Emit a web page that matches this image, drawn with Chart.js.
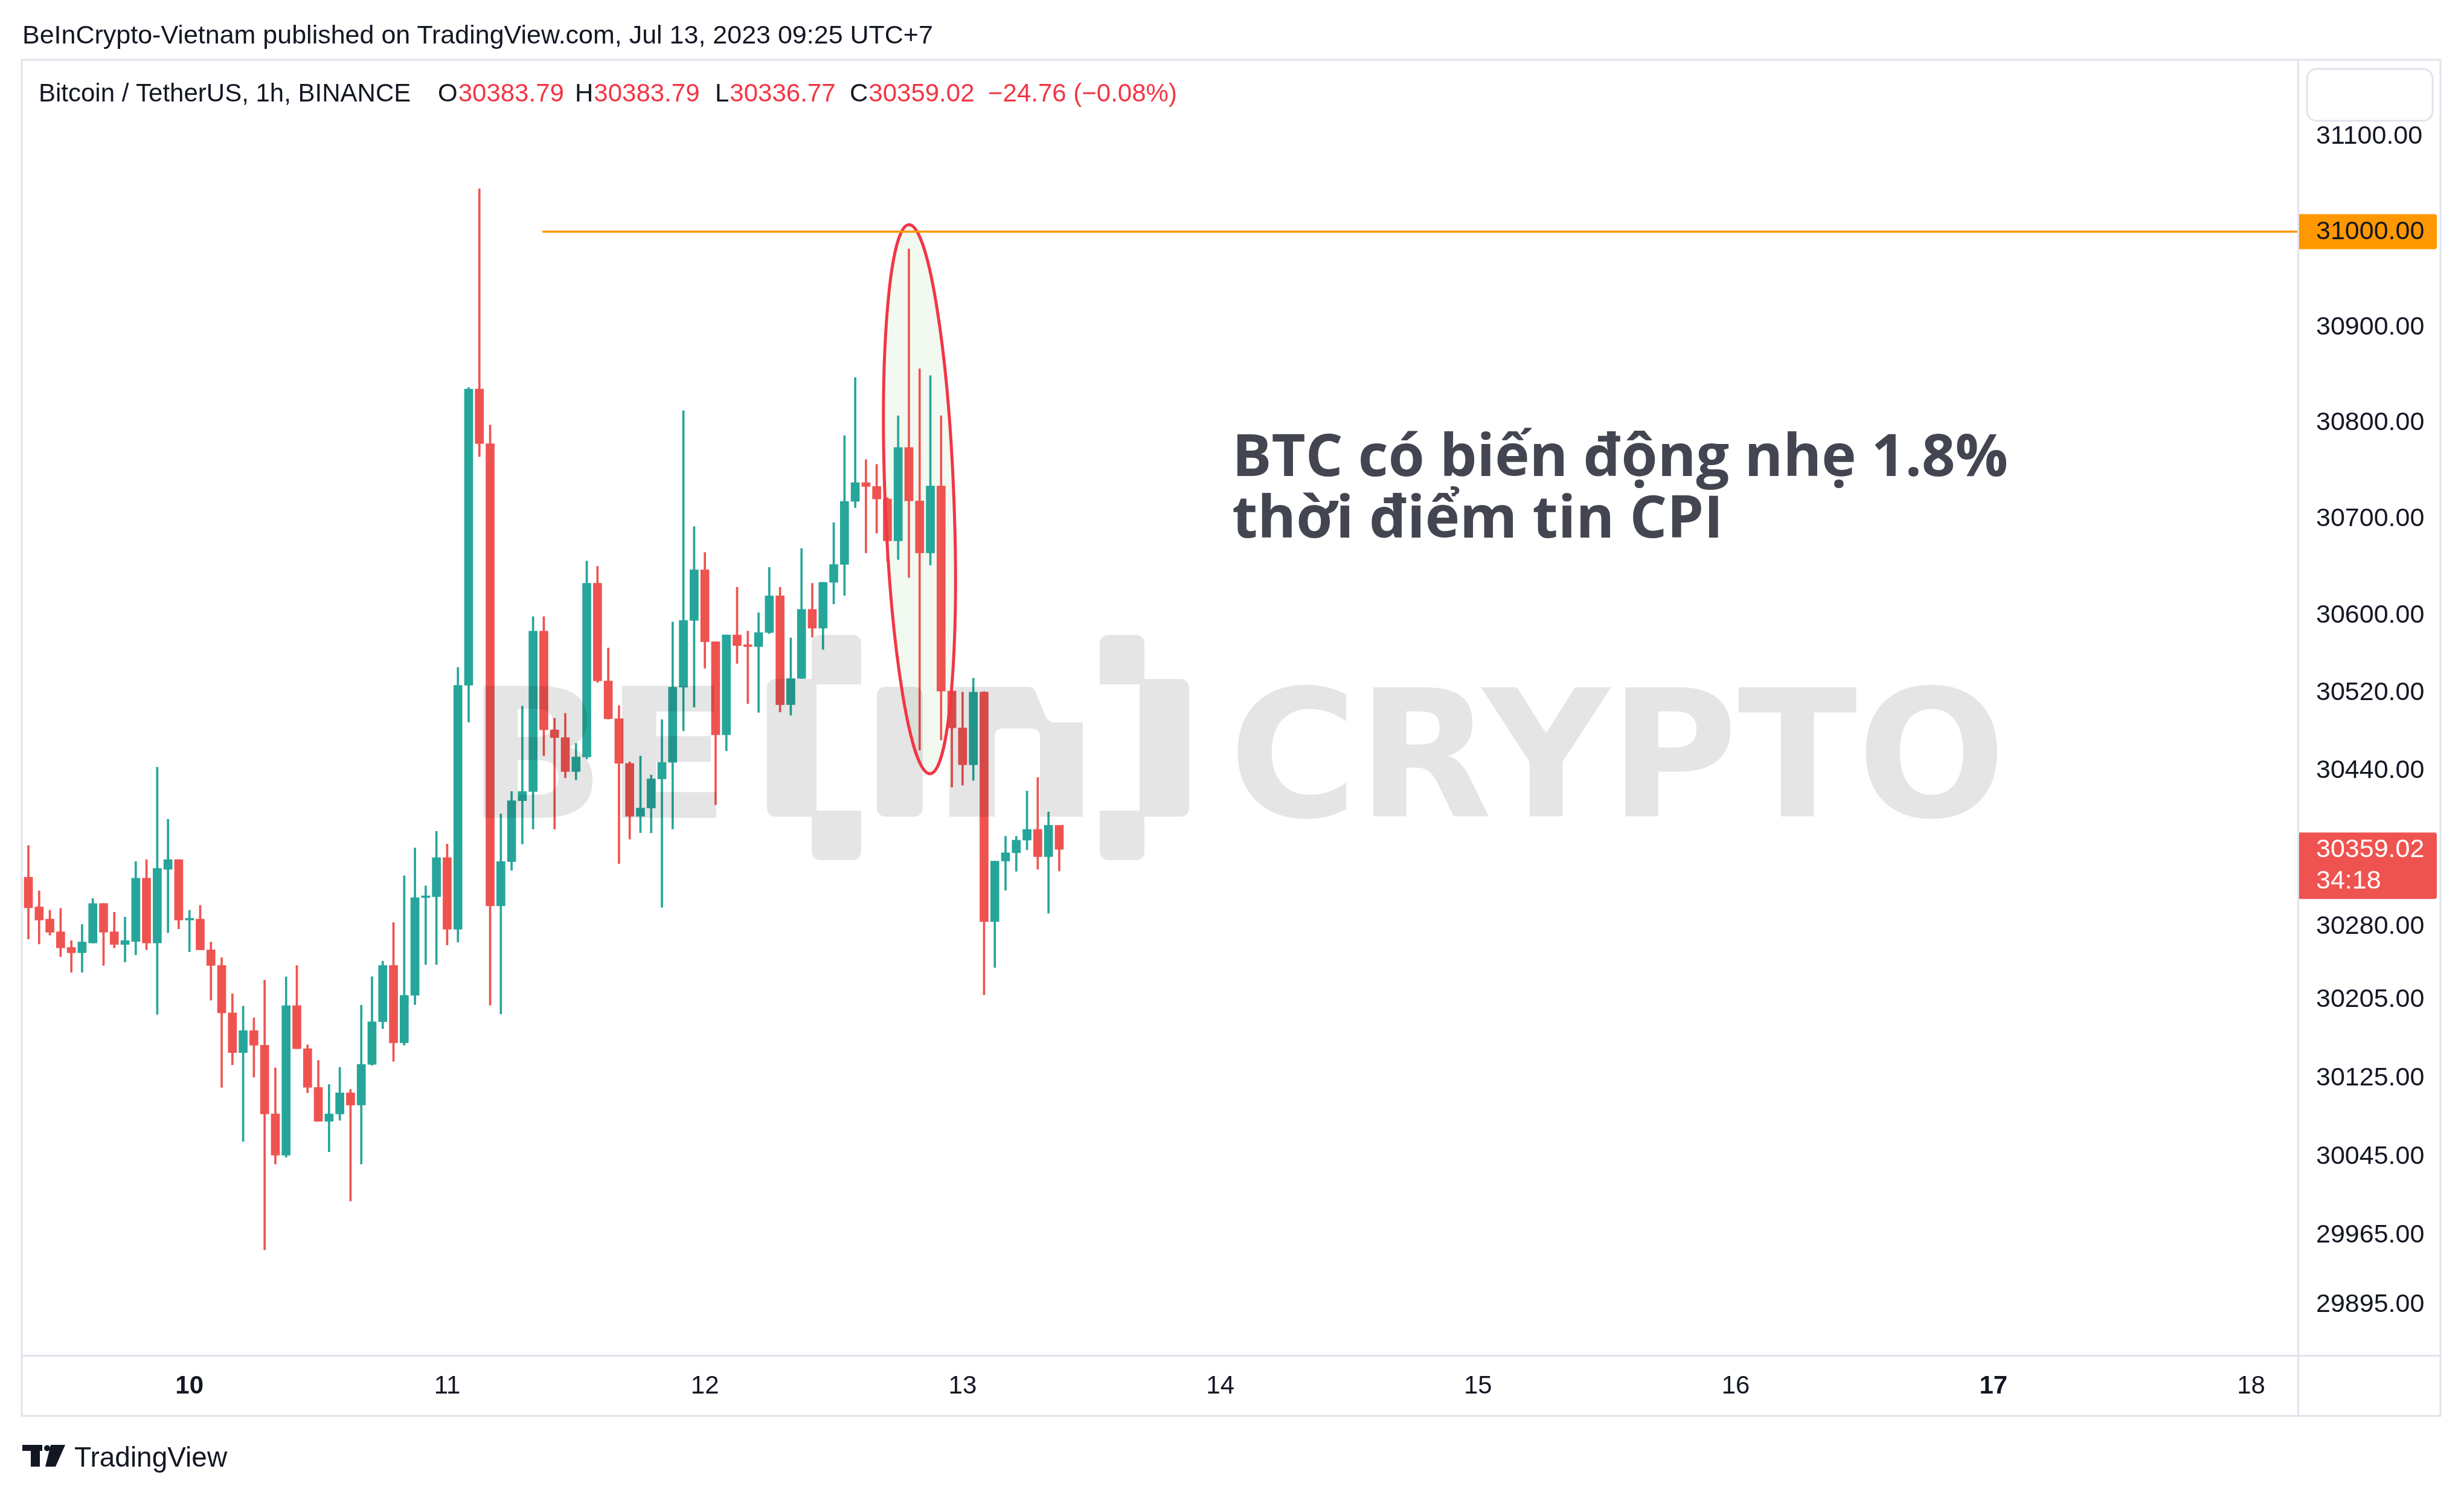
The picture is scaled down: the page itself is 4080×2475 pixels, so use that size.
<!DOCTYPE html>
<html>
<head>
<meta charset="utf-8">
<script src="https://cdn.jsdelivr.net/npm/chart.js@4.4.0/dist/chart.umd.min.js"></script>
<style>
html,body{margin:0;padding:0;background:#fff;}
#wrap{position:relative;width:4080px;height:2475px;overflow:hidden;background:#fff;}
#c{position:absolute;left:0;top:0;}
#hdr{position:absolute;left:37px;top:36px;font:43px/43px "Liberation Sans",Arial,sans-serif;color:#131722;white-space:nowrap;}
#tvtxt{position:absolute;left:123px;top:2389px;font:46px/46px "Liberation Sans",Arial,sans-serif;color:#131722;white-space:nowrap;}
#tvlogo{position:absolute;left:37px;top:2390px;}
</style>
</head>
<body>
<div id="wrap">
<canvas id="c" width="4080" height="2475"></canvas>
<div id="hdr">BeInCrypto-Vietnam published on TradingView.com, Jul 13, 2023 09:25 UTC+7</div>
<svg id="tvlogo" width="75" height="40" viewBox="0 0 75 40">
  <rect x="0" y="2" width="33" height="10" fill="#131722"/>
  <rect x="14" y="2" width="15" height="36" fill="#131722"/>
  <circle cx="41" cy="7.5" r="5" fill="#131722"/>
  <polygon points="47,2 71,2 55,38 38,38" fill="#131722"/>
</svg>
<div id="tvtxt">TradingView</div>
</div>
<script>
// ---- DATA (BTC/USDT 1h, Binance; first candle = Jul 9 09:00, UTC+7) ----
const firstCandleHour = 9; // hours after Jul 9 00:00
const opens = [30330.5,30300,30287.5,30274.5,30258.5,30253,30263,30303.5,30274.5,30261.5,
30264.5,30329.5,30263,30338.5,30348.5,30286.5,30287.5,30256,30240,30191.5,
30151,30173.5,30158.5,30088.5,30046.5,30199,30155,30115.5,30081,30088.5,
30110,30097.5,30139,30182.5,30240,30161,30209.5,30309.5,30310.5,30350.5,
30277,30528,30835.5,30778.5,30301,30346.5,30409,30418.5,30584,30482,
30474,30439,30454,30633.5,30532.5,30493.5,30447.5,30393,30401.5,30431.5,
30448.5,30526,30595,30647.5,30573,30477,30580,30569,30568,30582.5,
30620.5,30508,30535,30606.5,30587,30634.5,30653,30718.5,30738,30734,
30721,30677.5,30774.5,30719,30665,30734.5,30522,30484,30446,30521,
30285,30347,30355.5,30368.5,30379.5,30351.5,30383.79];
const highs = [30363,30316.5,30296.5,30298.5,30265.5,30282,30308.5,30303.5,30294.5,30289.5,
30346.5,30348.5,30443.5,30390,30348.5,30296.5,30301.5,30264,30248,30211,
30198.5,30186.5,30225,30135.5,30228.5,30240,30159,30143,30118.5,30136,
30113.5,30199.5,30228.5,30244.5,30284,30332,30360.5,30321.5,30377.5,30364.5,
30546.5,30837,31045,30798,30395.5,30418.5,30506.5,30599,30599,30494,
30499,30468,30656.5,30651,30566.5,30507,30449,30455,30435.5,30492.5,
30593.5,30813,30692.5,30665.5,30573,30580,30629.5,30584,30603,30650,
30629.5,30577,30669.5,30633.5,30634.5,30696.5,30787,30847.5,30762,30757,
30722.5,30807.5,30982,30856.5,30849.5,30807.5,30523,30521,30535.5,30521.5,
30347,30372.5,30372.5,30419,30433,30397.5,30383.79];
const lows = [30267,30262,30271,30249,30233,30233,30263,30240,30258,30243.5,
30251,30256,30190,30273.5,30277.5,30254,30256,30204.5,30115.5,30138.5,
30060.5,30126,29950.5,30037.5,30044.5,30155,30110,30081,30050,30082,
30000,30037.5,30138,30175.5,30142,30158.5,30200,30241,30241,30261,
30264,30490,30765,30199.5,30190.5,30337.5,30364.5,30380,30455.5,30380,
30432.5,30430.5,30452,30531,30493,30344.5,30369.5,30376,30376,30299.5,
30380,30481,30505.5,30545.5,30405,30460.5,30550.5,30509,30500,30581.5,
30500.5,30497,30535,30577.5,30565,30612,30621,30712,30665,30685.5,
30656,30658,30639.5,30461,30652.5,30471.5,30423,30425,30430,30210,
30238,30317,30336.5,30358.5,30338.5,30293.5,30336.77];
const closes = [30299,30286.5,30274,30258,30253,30264,30303.5,30274,30261.5,30265.5,
30329.5,30263,30339.5,30348.5,30286.5,30287.5,30256,30240,30191.5,30151,
30173.5,30158.5,30088.5,30046.5,30199,30155,30115.5,30081,30088.5,30110,
30097.5,30139,30182.5,30240,30161,30209.5,30309.5,30310.5,30350.5,30277,
30528,30835.5,30778.5,30301,30346.5,30409,30418.5,30584,30482,30474,
30439,30454,30633.5,30532.5,30493.5,30447.5,30393,30401.5,30431.5,30448.5,
30526,30595,30647.5,30573,30477,30580,30569,30568,30582.5,30620.5,
30508,30535,30606.5,30587,30634.5,30653,30718.5,30738,30734,30721,
30677.5,30774.5,30719,30665,30734.5,30522,30484,30446,30521,30285,
30347,30355.5,30368.5,30379.5,30351.5,30383.78,30359.02];

// x-axis: day ticks (hours after Jul 9 00:00) and their labels
const dayTickHours = [24,48,72,96,120,144,168,192,216];
const dayTickLabels = ['10','11','12','13','14','15','16','17','18'];
const boldDayLabels = ['10','17']; // Mondays
// y-axis tick labels
const priceTicks = [31100,30900,30800,30700,30600,30520,30440,30280,30205,30125,30045,29965,29895];
// horizontal level & annotation
const levelPrice = 31000;
const levelStartHour = 56.86;
const ellipseTop = {hour: 91.0, price: 31007.4};
const ellipseBottom = {hour: 92.97, price: 30436.8};
const noteLines = ['BTC có biến động nhẹ 1.8%', 'thời điểm tin CPI'];
const noteAnchor = {hour: 121.1, price: 30745};
const symbolText = 'Bitcoin / TetherUS, 1h, BINANCE';
const countdownText = '34:18';

// ---- build datasets ----
const UP = '#26a69a', DOWN = '#ef5350';
const xs = opens.map((_, i) => firstCandleHour + i);
const candleColors = opens.map((o, i) => closes[i] >= o ? UP : DOWN);
const bodyData = opens.map((o, i) => ({x: xs[i], y: [o, closes[i]]}));
const wickData = opens.map((o, i) => ({x: xs[i], y: [lows[i], highs[i]]}));

const FONT = '"Liberation Sans", Arial, sans-serif';
const TXT = '#131722';
const BORDER = '#e0e3eb';

function rr(ctx, x, y, w, h, r) { ctx.roundRect(x, y, w, h, r); }

const overlay = {
  id: 'overlay',
  ellipse(chart) {
    const X = chart.scales.x, Y = chart.scales.y;
    const x1 = X.getPixelForValue(ellipseTop.hour), y1 = Y.getPixelForValue(ellipseTop.price);
    const x2 = X.getPixelForValue(ellipseBottom.hour), y2 = Y.getPixelForValue(ellipseBottom.price);
    const L = Math.hypot(x2 - x1, y2 - y1);
    return {cx: (x1 + x2) / 2, cy: (y1 + y2) / 2, ry: L / 2, rx: 57, rot: Math.atan2(y2 - y1, x2 - x1) - Math.PI / 2};
  },
  beforeDatasetsDraw(chart) {
    const ctx = chart.ctx, e = this.ellipse(chart);
    ctx.save();
    ctx.beginPath();
    ctx.ellipse(e.cx, e.cy, e.rx, e.ry, e.rot, 0, Math.PI * 2);
    ctx.fillStyle = 'rgba(76,175,80,0.08)';
    ctx.fill();
    ctx.restore();
  },
  afterDatasetsDraw(chart) {
    const ctx = chart.ctx, X = chart.scales.x, Y = chart.scales.y, a = chart.chartArea;
    // watermark
    ctx.save();
    ctx.fillStyle = 'rgba(0,0,0,0.1)';
    const fitText = (text, left, top, right, bottom) => {
      ctx.font = 'bold 200px "DejaVu Sans", sans-serif';
      ctx.textAlign = 'left'; ctx.textBaseline = 'alphabetic';
      const m = ctx.measureText(text);
      const w = m.actualBoundingBoxLeft + m.actualBoundingBoxRight;
      const h = m.actualBoundingBoxAscent + m.actualBoundingBoxDescent;
      const sx = (right - left) / w, sy = (bottom - top) / h;
      ctx.save();
      ctx.translate(left + m.actualBoundingBoxLeft * sx, top + m.actualBoundingBoxAscent * sy);
      ctx.scale(sx, sy);
      ctx.fillText(text, 0, 0);
      ctx.restore();
    };
    fitText('BE', 800, 1135, 1186, 1354);
    fitText('CRYPTO', 2048, 1133, 3307, 1356);
    ctx.beginPath();
    rr(ctx, 1344, 1051, 82, 82, [14, 14, 0, 0]);
    rr(ctx, 1270, 1124, 82, 228, [14, 0, 0, 14]);
    rr(ctx, 1344, 1342, 82, 82, [0, 0, 14, 14]);
    rr(ctx, 1821, 1051, 74, 82, [14, 14, 0, 0]);
    rr(ctx, 1887, 1124, 82, 228, [0, 14, 14, 0]);
    rr(ctx, 1821, 1342, 74, 82, [0, 0, 14, 14]);
    rr(ctx, 1452, 1137, 76, 215, 14);
    ctx.fill();
    ctx.beginPath();
    ctx.moveTo(1572, 1352);
    ctx.lineTo(1572, 1151);
    ctx.quadraticCurveTo(1572, 1137, 1586, 1137);
    ctx.lineTo(1703, 1137);
    ctx.quadraticCurveTo(1711, 1137, 1714, 1144);
    ctx.lineTo(1733, 1189);
    ctx.quadraticCurveTo(1737, 1196, 1746, 1196);
    ctx.lineTo(1793, 1196);
    ctx.lineTo(1793, 1352);
    ctx.lineTo(1722, 1352);
    ctx.lineTo(1722, 1220);
    ctx.quadraticCurveTo(1722, 1206, 1708, 1206);
    ctx.lineTo(1661, 1206);
    ctx.quadraticCurveTo(1647, 1206, 1647, 1220);
    ctx.lineTo(1647, 1352);
    ctx.closePath();
    ctx.fill();
    ctx.restore();

    // ellipse stroke
    const e = this.ellipse(chart);
    ctx.save();
    ctx.beginPath();
    ctx.ellipse(e.cx, e.cy, e.rx, e.ry, e.rot, 0, Math.PI * 2);
    ctx.strokeStyle = '#f23645';
    ctx.lineWidth = 5;
    ctx.stroke();
    ctx.restore();

    // horizontal level
    const ly = Y.getPixelForValue(levelPrice);
    ctx.save();
    ctx.strokeStyle = '#ff9800';
    ctx.lineWidth = 3.5;
    ctx.beginPath();
    ctx.moveTo(X.getPixelForValue(levelStartHour), ly);
    ctx.lineTo(a.right, ly);
    ctx.stroke();
    ctx.restore();

    // annotation text
    ctx.save();
    ctx.fillStyle = '#434651';
    ctx.textAlign = 'left'; ctx.textBaseline = 'alphabetic';
    ctx.font = 'bold 100px "Open Sans", "Noto Sans", sans-serif';
    const w0 = ctx.measureText(noteLines[0]).width;
    const fs = 100 * 1285 / w0;
    ctx.font = `bold ${fs}px "Open Sans", "Noto Sans", sans-serif`;
    const tx = X.getPixelForValue(noteAnchor.hour), ty = Y.getPixelForValue(noteAnchor.price);
    noteLines.forEach((t, i) => ctx.fillText(t, tx, ty + i * 102));
    ctx.restore();
  },
  afterDraw(chart) {
    const ctx = chart.ctx, Y = chart.scales.y, a = chart.chartArea;
    const last = closes.length - 1;
    ctx.save();
    // legend line
    ctx.font = `42px ${FONT}`;
    ctx.textBaseline = 'alphabetic'; ctx.textAlign = 'left';
    const red = '#f23645';
    const chg = closes[last] - closes[last - 1];
    const pct = chg / closes[last - 1] * 100;
    const fmt = v => (v < 0 ? '\u2212' : '') + Math.abs(v).toFixed(2);
    ctx.fillStyle = TXT;
    ctx.fillText(symbolText, 64, 168);
    const groups = [
      ['O', opens[last].toFixed(2), 725],
      ['H', highs[last].toFixed(2), 952],
      ['L', lows[last].toFixed(2), 1184],
      ['C', closes[last].toFixed(2), 1407]
    ];
    groups.forEach(([k, v, x]) => {
      ctx.fillStyle = TXT;
      ctx.fillText(k, x, 168);
      ctx.fillStyle = red;
      ctx.fillText(v, x + ctx.measureText(k).width + 1, 168);
    });
    ctx.fillStyle = red;
    ctx.fillText(fmt(chg) + ' (' + fmt(pct) + '%)', 1636, 168);

    // frame
    ctx.strokeStyle = BORDER;
    ctx.lineWidth = 3;
    ctx.strokeRect(36, 99, 4041 - 36, 2344 - 99);
    ctx.beginPath();
    ctx.moveTo(a.right + 1.5, 99); ctx.lineTo(a.right + 1.5, 2344);
    ctx.moveTo(36, a.bottom + 1.5); ctx.lineTo(4041, a.bottom + 1.5);
    ctx.stroke();

    // top-right box
    ctx.beginPath();
    rr(ctx, 3820, 114, 208, 86, 16);
    ctx.fillStyle = '#fff';
    ctx.fill();
    ctx.strokeStyle = BORDER;
    ctx.lineWidth = 3;
    ctx.stroke();

    // level price label
    const ly = Y.getPixelForValue(levelPrice);
    ctx.fillStyle = '#ff9800';
    ctx.beginPath();
    rr(ctx, a.right + 3, ly - 29, 4035 - a.right - 3, 58, [0, 4, 4, 0]);
    ctx.fill();
    ctx.fillStyle = TXT;
    ctx.font = `43px ${FONT}`;
    ctx.textBaseline = 'middle';
    ctx.fillText(levelPrice.toFixed(2), 3835, ly + 1);

    // last price label
    const py = Y.getPixelForValue(closes[last]);
    ctx.fillStyle = '#ef5350';
    ctx.beginPath();
    rr(ctx, a.right + 3, py - 28, 4035 - a.right - 3, 110, [0, 4, 4, 0]);
    ctx.fill();
    ctx.fillStyle = '#fff';
    ctx.fillText(closes[last].toFixed(2), 3835, py + 1);
    ctx.fillText(countdownText, 3835, py + 53);
    ctx.restore();
  }
};

new Chart(document.getElementById('c'), {
  type: 'bar',
  data: {
    datasets: [
      {label: 'wick', data: wickData, backgroundColor: candleColors, barThickness: 3, grouped: false, order: 2, borderWidth: 0},
      {label: 'body', data: bodyData, backgroundColor: candleColors, barThickness: 14, grouped: false, order: 1, borderWidth: 0, minBarLength: 3}
    ]
  },
  options: {
    responsive: false,
    animation: false,
    devicePixelRatio: 1,
    events: [],
    layout: {padding: {left: 36, top: 99, right: 39, bottom: 131}},
    plugins: {legend: {display: false}, tooltip: {enabled: false}},
    scales: {
      x: {
        type: 'linear', min: 8.381, max: 220.3, offset: false,
        grid: {display: false, drawTicks: false}, border: {display: false},
        afterBuildTicks: s => { s.ticks = dayTickHours.map(v => ({value: v})); },
        afterFit: s => { s.height = 101; },
        ticks: {
          autoSkip: false, maxRotation: 0, padding: 27, color: TXT,
          callback: v => dayTickLabels[dayTickHours.indexOf(v)],
          font: c => ({family: FONT, size: 42, weight: (c.tick && boldDayLabels.includes(dayTickLabels[dayTickHours.indexOf(c.tick.value)])) ? 'bold' : 'normal'})
        }
      },
      y: {
        type: 'logarithmic', position: 'right', min: 29844.3, max: 31180.8, beginAtZero: false,
        grid: {display: false, drawTicks: false}, border: {display: false},
        afterBuildTicks: s => { s.ticks = priceTicks.map(v => ({value: v})); },
        afterFit: s => { s.width = 237; },
        ticks: {autoSkip: false, padding: 31, color: TXT, font: {family: FONT, size: 43}, callback: v => Number(v).toFixed(2)}
      }
    }
  },
  plugins: [overlay]
});
</script>
</body>
</html>
